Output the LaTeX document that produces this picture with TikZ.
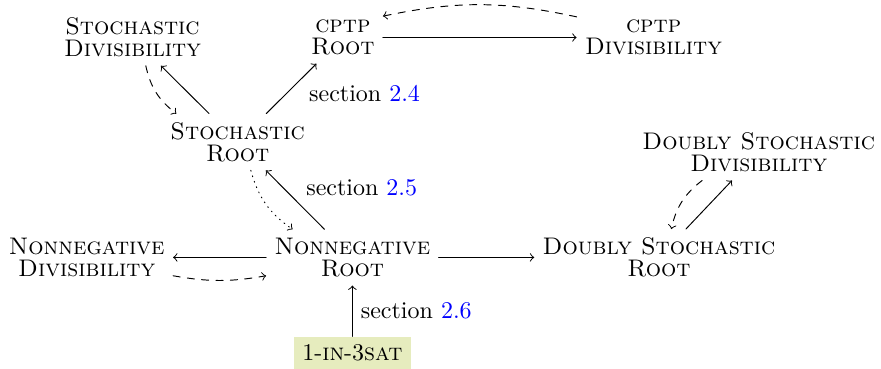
\documentclass[tikz,border=0pt]{standalone}
\usepackage{xcolor}
\definecolor{satfill}{RGB}{230,236,190}
\tikzset{prob/.style={align=center, font=\fontsize{10pt}{9.3pt}\selectfont\scshape}}
\newcommand{\secref}[1]{section {\color{blue}#1}}

\begin{document}
\begin{tikzpicture}[>=to, line join=round, line cap=round]
	\useasboundingbox (0,0) rectangle (12.90,5.389);
	% problems
	\node[prob] (sdiv) at (1.94,4.84) {Stochastic\\Divisibility};
	\node[prob] (croot) at (5.02,4.84) {cptp\\Root};
	\node[prob] (cdiv) at (9.57,4.84) {cptp\\Divisibility};
	\node[prob] (sroot) at (3.48,3.31) {Stochastic\\Root};
	\node[prob] (ndiv) at (1.27,1.62) {Nonnegative\\Divisibility};
	\node[prob] (nroot) at (5.16,1.62) {Nonnegative\\Root};
	\node[prob] (dsroot) at (9.65,1.62) {Doubly Stochastic\\Root};
	\node[prob] (dsdiv) at (11.11,3.16) {Doubly Stochastic\\Divisibility};
	\node[fill=satfill] (sat) at (5.16,0.22) {1-\textsc{in}-3\textsc{sat}};
	% reductions
	\draw[->] (croot) -- (cdiv);
	\draw[->,dashed] (cdiv.165) to[bend right=12] (croot.28);
	\draw[->] (sroot) -- (sdiv);
	\draw[->,dashed] (sdiv) to[bend right=20] (sroot);
	\draw[->] (sroot) -- (croot) node[pos=0.4,right=6pt] {\secref{2.4}};
	\draw[->] (nroot) -- (sroot) node[pos=0.7,right=6pt] {\secref{2.5}};
	\draw[->,dotted] (sroot) to[bend right=20] (nroot);
	\draw[->] (nroot) -- (ndiv);
	\draw[->,dashed] (ndiv.-12) to[bend right=10] (nroot.192);
	\draw[->] (nroot) -- (dsroot);
	\draw[->] (dsroot) -- (dsdiv);
	\draw[->,dashed] (dsdiv) to[bend right=20] (dsroot);
	\draw[->] (sat) -- (nroot) node[midway,right] {\secref{2.6}};
\end{tikzpicture}
\end{document}
